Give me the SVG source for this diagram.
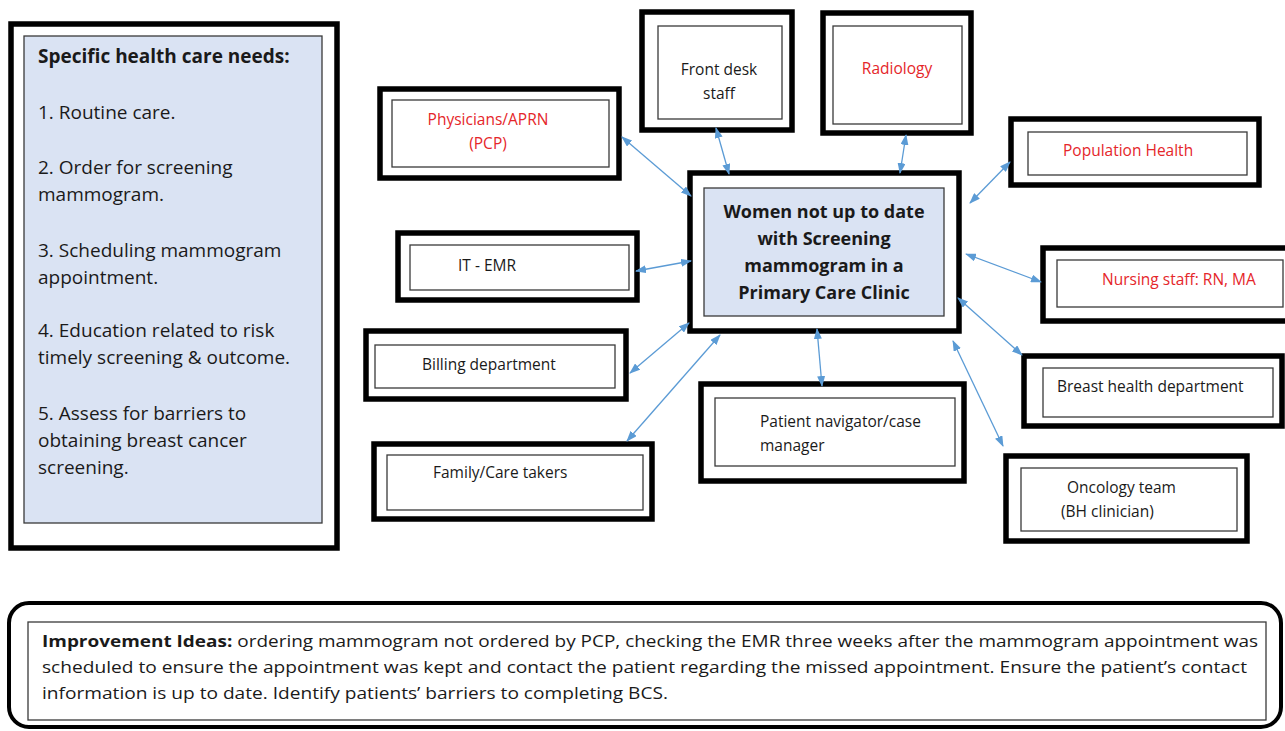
<svg xmlns="http://www.w3.org/2000/svg" width="1285" height="731" viewBox="0 0 1285 731">
  <style>
    .outer { fill: #ffffff; stroke: #000000; stroke-width: 5.5; }
    .inner { fill: #ffffff; stroke: #3a3a3a; stroke-width: 1.3; }
    .blue { fill: #dae3f3; }
    .txt { font-family: "Open Sans", "Liberation Sans", sans-serif; font-size: 15.5px; fill: #1a1a1a; }
    .red { fill: #e5262a; }
    .need { font-family: "Open Sans", "Liberation Sans", sans-serif; font-size: 19px; fill: #1a1a1a; }
    .hub { font-family: "Open Sans", "Liberation Sans", sans-serif; font-size: 18px; font-weight: bold; fill: #1a1a1a; text-anchor: middle; }
    .idea { font-family: "Open Sans", "Liberation Sans", sans-serif; font-size: 16.5px; fill: #1a1a1a; }
    .link { stroke: #5b9bd5; stroke-width: 1.3; fill: none; marker-start: url(#tip); marker-end: url(#tip); }
  </style>
  <defs>
    <marker id="tip" markerUnits="userSpaceOnUse" markerWidth="11" markerHeight="8" refX="10" refY="4" orient="auto-start-reverse">
      <path d="M0,0 L11,4 L0,8 z" fill="#5b9bd5"/>
    </marker>
  </defs>

  <rect width="1285" height="731" fill="#ffffff"/>

  <!-- Specific health care needs panel -->
  <g id="needs">
    <rect class="outer" x="11" y="24" width="326" height="524"/>
    <rect class="inner blue" x="24" y="36" width="298" height="487"/>
    <text class="need" x="38" y="63" font-weight="bold">Specific health care needs:</text>
    <text class="need" x="38" y="119">1. Routine care.</text>
    <text class="need" x="38" y="174">2. Order for screening</text>
    <text class="need" x="38" y="201">mammogram.</text>
    <text class="need" x="38" y="257">3. Scheduling mammogram</text>
    <text class="need" x="38" y="284">appointment.</text>
    <text class="need" x="38" y="337">4. Education related to risk</text>
    <text class="need" x="38" y="364">timely screening &amp; outcome.</text>
    <text class="need" x="38" y="420">5. Assess for barriers to</text>
    <text class="need" x="38" y="447">obtaining breast cancer</text>
    <text class="need" x="38" y="474">screening.</text>
  </g>

  <!-- Central node -->
  <g id="hub">
    <rect class="outer" x="690" y="173" width="269" height="158"/>
    <rect class="inner blue" x="704" y="188" width="240" height="128"/>
    <text class="hub" x="824" y="218">Women not up to date</text>
    <text class="hub" x="824" y="245">with Screening</text>
    <text class="hub" x="824" y="272">mammogram in a</text>
    <text class="hub" x="824" y="299">Primary Care Clinic</text>
  </g>

  <g id="physicians">
    <rect class="outer" x="380" y="89" width="239" height="89"/>
    <rect class="inner" x="392" y="100" width="217" height="67"/>
    <text class="txt red" x="488" y="125" text-anchor="middle">Physicians/APRN</text>
    <text class="txt red" x="488" y="149" text-anchor="middle">(PCP)</text>
  </g>

  <g id="front-desk">
    <rect class="outer" x="642" y="12" width="150" height="118"/>
    <rect class="inner" x="658" y="26" width="124" height="93"/>
    <text class="txt" x="719" y="75" text-anchor="middle">Front desk</text>
    <text class="txt" x="719" y="99" text-anchor="middle">staff</text>
  </g>

  <g id="radiology">
    <rect class="outer" x="823" y="13" width="148" height="120"/>
    <rect class="inner" x="833" y="26" width="129" height="98"/>
    <text class="txt red" x="897" y="74" text-anchor="middle">Radiology</text>
  </g>

  <g id="population-health">
    <rect class="outer" x="1011" y="119" width="248" height="66"/>
    <rect class="inner" x="1028" y="132" width="219" height="43"/>
    <text class="txt red" x="1063" y="156">Population Health</text>
  </g>

  <g id="nursing">
    <rect class="outer" x="1043" y="248" width="260" height="73"/>
    <rect class="inner" x="1057" y="260" width="226" height="47"/>
    <text class="txt red" x="1102" y="285">Nursing staff: RN, MA</text>
  </g>

  <g id="it-emr">
    <rect class="outer" x="398" y="233" width="239" height="67"/>
    <rect class="inner" x="410" y="245" width="219" height="45"/>
    <text class="txt" x="458" y="271">IT - EMR</text>
  </g>

  <g id="billing">
    <rect class="outer" x="366" y="331" width="260" height="68"/>
    <rect class="inner" x="375" y="345" width="240" height="43"/>
    <text class="txt" x="422" y="370">Billing department</text>
  </g>

  <g id="family">
    <rect class="outer" x="374" y="444" width="278" height="75"/>
    <rect class="inner" x="387" y="455" width="256" height="55"/>
    <text class="txt" x="433" y="478">Family/Care takers</text>
  </g>

  <g id="patient-navigator">
    <rect class="outer" x="701" y="384" width="263" height="97"/>
    <rect class="inner" x="715" y="398" width="240" height="68"/>
    <text class="txt" x="760" y="427">Patient navigator/case</text>
    <text class="txt" x="760" y="451">manager</text>
  </g>

  <g id="breast-health">
    <rect class="outer" x="1024" y="356" width="258" height="70"/>
    <rect class="inner" x="1043" y="368" width="230" height="49"/>
    <text class="txt" x="1057" y="392">Breast health department</text>
  </g>

  <g id="oncology">
    <rect class="outer" x="1006" y="456" width="241" height="85"/>
    <rect class="inner" x="1021" y="468" width="216" height="63"/>
    <text class="txt" x="1067" y="493">Oncology team</text>
    <text class="txt" x="1061" y="517">(BH clinician)</text>
  </g>

  <!-- Two-way connectors -->
  <g id="connectors">
    <line class="link" x1="622" y1="137" x2="691" y2="196"/>
    <line class="link" x1="716" y1="128" x2="729" y2="174"/>
    <line class="link" x1="906" y1="135" x2="900" y2="173"/>
    <line class="link" x1="1010" y1="162" x2="970" y2="203"/>
    <line class="link" x1="636" y1="271" x2="691" y2="261"/>
    <line class="link" x1="966" y1="254" x2="1041" y2="282"/>
    <line class="link" x1="630" y1="373" x2="689" y2="323"/>
    <line class="link" x1="627" y1="441" x2="720" y2="335"/>
    <line class="link" x1="817" y1="329" x2="822" y2="386"/>
    <line class="link" x1="958" y1="298" x2="1022" y2="355"/>
    <line class="link" x1="953" y1="341" x2="1003" y2="446"/>
  </g>

  <!-- Improvement ideas box -->
  <g id="ideas">
    <rect x="9" y="603" width="1272" height="124" rx="20" ry="20" fill="#ffffff" stroke="#000000" stroke-width="4"/>
    <rect class="inner" x="28" y="622" width="1238" height="98"/>
    <text class="idea" x="42" y="647" textLength="1216" lengthAdjust="spacingAndGlyphs"><tspan font-weight="bold">Improvement Ideas:</tspan> ordering mammogram not ordered by PCP, checking the EMR three weeks after the mammogram appointment was</text>
    <text class="idea" x="42" y="673" textLength="1205" lengthAdjust="spacingAndGlyphs">scheduled to ensure the appointment was kept and contact the patient regarding the missed appointment. Ensure the patient’s contact</text>
    <text class="idea" x="42" y="699" textLength="626" lengthAdjust="spacingAndGlyphs">information is up to date. Identify patients’ barriers to completing BCS.</text>
  </g>
</svg>
